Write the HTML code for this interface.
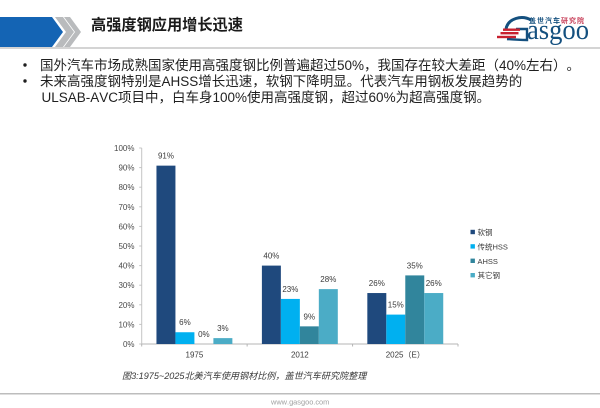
<!DOCTYPE html>
<html>
<head>
<meta charset="utf-8">
<style>
html,body{margin:0;padding:0;background:#fff;width:600px;height:408px;overflow:hidden;}
svg{display:block;}
text{font-family:"Liberation Sans","Noto Sans CJK SC",sans-serif;text-spacing-trim:space-all;font-kerning:none;}
</style>
</head>
<body>
<svg id="slide" xmlns="http://www.w3.org/2000/svg" width="600" height="408" viewBox="0 0 600 408">
  <g>
    <polygon points="0,17 52,17 63,32 52,47 0,47" fill="#1464b4"/>
    <polygon points="55,17 63,17 74,32 63,47 55,47 66,32" fill="#b9bbbd"/>
    <polygon points="64,17 70,17 81,32 70,47 64,47 75,32" fill="#b9bbbd"/>
    <rect x="0" y="47" width="600" height="2" fill="#d4d4d4"/>
    <text x="91" y="30" font-size="15.2" font-weight="bold" fill="#1a1a1a">高强度钢应用增长迅速</text>
  </g>
  <g>
    <path d="M506 29 C508 18 522 15 531 20" fill="none" stroke="#14507f" stroke-width="3"/>
    <path d="M516 29 H527 V40 Q518 40 507 39" fill="none" stroke="#14507f" stroke-width="2.4"/>
    <rect x="503" y="28.5" width="17" height="2.4" fill="#c8202f"/>
    <rect x="500.5" y="32" width="18" height="2.4" fill="#c8202f"/>
    <rect x="497" y="35.8" width="19" height="2.4" fill="#c8202f"/>
    <text x="527" y="39" font-size="28" fill="#14507f" textLength="62" lengthAdjust="spacingAndGlyphs" style="font-family:'Liberation Serif',serif">asgoo</text>
    <text x="529" y="23" font-size="7" letter-spacing="1" font-weight="bold" fill="#14507f">盖世汽车</text>
    <text x="561" y="23" font-size="7" letter-spacing="1" font-weight="bold" fill="#c8405a">研究院</text>
  </g>
  <g font-size="13.5" fill="#1f1f1f">
    <circle cx="25" cy="65" r="1.7" fill="#1f1f1f"/>
    <circle cx="25" cy="81" r="1.7" fill="#1f1f1f"/>
    <text x="40" y="70">国外汽车市场成熟国家使用高强度钢比例普遍超过50%，我国存在较大差距（40%左右）。</text>
    <text x="40" y="86">未来高强度钢特别是AHSS增长迅速，软钢下降明显。代表汽车用钢板发展趋势的</text>
    <text x="41.5" y="102">ULSAB-AVC项目中，白车身100%使用高强度钢，超过60%为超高强度钢。</text>
  </g>
  <g id="chart"></g>
  <text x="122" y="379" font-size="9.1" font-style="italic" fill="#3a3a3a">图3:1975~2025北美汽车使用钢材比例，盖世汽车研究院整理</text>
  <rect x="0" y="393" width="600" height="1.5" fill="#bdbdbd"/>
  <text x="271" y="404.5" font-size="7.4" fill="#a0a0a0">www.gasgoo.com</text>
</svg>
<script>
var categories = ['1975', '2012', '2025（E）'];
var seriesNames = ['软钢', '传统HSS', 'AHSS', '其它钢'];
var softSteel = [91, 40, 26];
var traditionalHss = [6, 23, 15];
var ahss = [0, 9, 35];
var otherSteel = [3, 28, 26];
var yTicks = [0, 10, 20, 30, 40, 50, 60, 70, 80, 90, 100];

var seriesValues = [softSteel, traditionalHss, ahss, otherSteel];
var colors = ['#1f497d', '#00b0f0', '#31859c', '#4bacc6'];
var NS = 'http://www.w3.org/2000/svg';
var chart = document.getElementById('chart');
var plotLeft = 141.7, plotRight = 458, plotTop = 148, plotBottom = 344;
var groupWidth = (plotRight - plotLeft) / categories.length;
var barWidth = groupWidth * 0.18;
var groupPad = (groupWidth - barWidth * seriesNames.length) / 2;

function yScale(v) { return plotBottom - (v / 100) * (plotBottom - plotTop); }
function xGroup(i) { return plotLeft + i * groupWidth; }
function xBar(i, s) { return xGroup(i) + groupPad + s * barWidth; }
function make(tag, attrs, text) {
  var el = document.createElementNS(NS, tag);
  for (var k in attrs) { el.setAttribute(k, attrs[k]); }
  if (text !== undefined) { el.textContent = text; }
  chart.appendChild(el);
  return el;
}

var yAxis = make('line', {x1: plotLeft, x2: plotLeft, y1: plotTop, y2: plotBottom, stroke: '#c4c4c4', 'stroke-width': 1});


var xAxis = make('line', {x1: plotLeft, x2: plotRight, y1: plotBottom, y2: plotBottom, stroke: '#b4b4b4', 'stroke-width': 1});



yTicks.forEach(function (t) {
  var mark = make('line', {x1: plotLeft - 2.5, x2: plotLeft, y1: yScale(t), y2: yScale(t), stroke: '#c4c4c4', 'stroke-width': 1});
  
  
  var label = make('text', {x: 134.5, y: yScale(t) + 3, 'font-size': 8, fill: '#4a4a4a', 'text-anchor': 'end'}, t + '%');
  
  
});

for (var g = 0; g <= categories.length; g++) {
  var tick = make('line', {x1: xGroup(g), x2: xGroup(g), y1: plotBottom, y2: plotBottom + 2.5, stroke: '#b4b4b4', 'stroke-width': 1});
  
  
}

categories.forEach(function (c, i) {
  var label = make('text', {x: xGroup(i) + groupWidth / 2, y: 357.5, 'font-size': 8, fill: '#3a3a3a', 'text-anchor': 'middle'}, c);
  
  
});

seriesValues.forEach(function (values, s) {
  values.forEach(function (v, i) {
    var bar = make('rect', {x: xBar(i, s), y: yScale(v), width: barWidth, height: plotBottom - yScale(v), fill: colors[s]});
    
    
    var value = make('text', {x: xBar(i, s) + barWidth / 2, y: yScale(v) - 7, 'font-size': 8, fill: '#3a3a3a', 'text-anchor': 'middle'}, v + '%');
    
    
  });
});

seriesNames.forEach(function (name, s) {
  var cy = 232 + s * 14.4;
  var swatch = make('rect', {x: 470.5, y: cy - 2.2, width: 4.4, height: 4.4, fill: colors[s]});
  
  
  var label = make('text', {x: 477.5, y: cy + 3, 'font-size': 7.5, fill: '#3a3a3a'}, name);
  
  
});
</script>
</body>
</html>
